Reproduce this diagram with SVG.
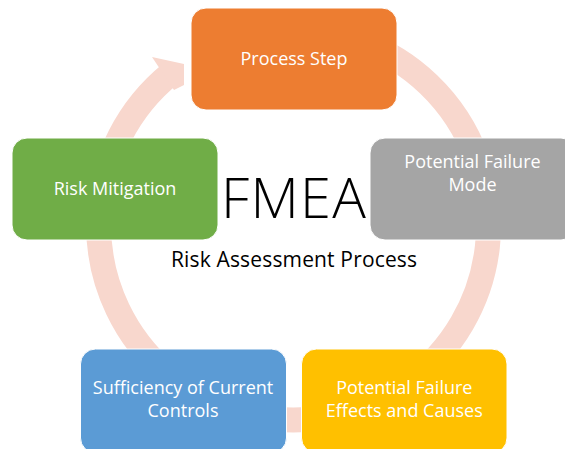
<svg xmlns="http://www.w3.org/2000/svg" width="565" height="449" viewBox="0 0 565 449">
  <style>
    .box { stroke: #ffffff; stroke-width: 1; }
    .lbl { font-family: "Open Sans", "Liberation Sans", sans-serif; font-size: 18px; fill: #ffffff; text-anchor: middle; }
    .ring { fill: none; stroke: #F8D7CD; stroke-width: 25; }
    .head { fill: #F8D7CD; }
  </style>
  <rect width="565" height="449" fill="#ffffff"/>
  <g id="connectors">
    <path class="ring" d="M 360.2 41.7 A 195 195 0 1 1 170.8 73.5"/>
    <polygon class="head" points="152,57 184,64 184,85 174,90"/>
  </g>
  <g id="title">
    <text x="293.5" y="218" font-family="'Open Sans', 'Liberation Sans', sans-serif" font-weight="300" font-size="56" text-anchor="middle" textLength="145" lengthAdjust="spacing" fill="#000000">FMEA</text>
    <text x="294" y="267" font-family="'Open Sans', 'Liberation Sans', sans-serif" font-size="21" text-anchor="middle" textLength="246" lengthAdjust="spacing" fill="#000000">Risk Assessment Process</text>
  </g>
  <g id="process-step">
    <rect class="box" x="191" y="8" width="206" height="102" rx="15" fill="#ED7D31"/>
    <text class="lbl" x="294" y="65">Process Step</text>
  </g>
  <g id="potential-failure-mode">
    <rect class="box" x="370" y="138" width="206" height="102" rx="15" fill="#A5A5A5"/>
    <text class="lbl" x="472.5" y="168">Potential Failure</text>
    <text class="lbl" x="472.5" y="190.5">Mode</text>
  </g>
  <g id="effects-causes">
    <rect class="box" x="301.5" y="349" width="205.5" height="104" rx="15" fill="#FFC000"/>
    <text class="lbl" x="404.3" y="394">Potential Failure</text>
    <text class="lbl" x="404.3" y="417">Effects and Causes</text>
  </g>
  <g id="sufficiency">
    <rect class="box" x="80.5" y="349" width="206" height="104" rx="15" fill="#5B9BD5"/>
    <text class="lbl" x="183" y="394">Sufficiency of Current</text>
    <text class="lbl" x="183" y="417">Controls</text>
  </g>
  <g id="risk-mitigation">
    <rect class="box" x="12" y="138" width="206" height="102" rx="15" fill="#70AD47"/>
    <text class="lbl" x="115" y="195">Risk Mitigation</text>
  </g>
</svg>
